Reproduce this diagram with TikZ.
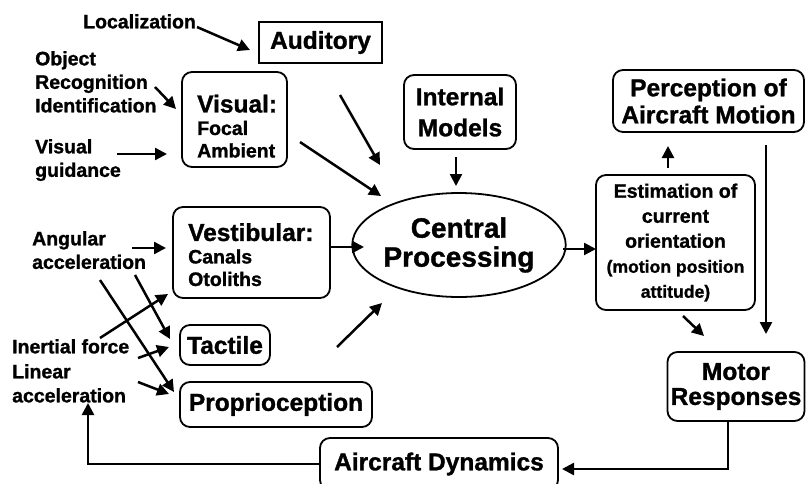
\documentclass[tikz,border=0pt]{standalone}
\usepackage{fontspec}
\setmainfont{Liberation Sans}[BoldFeatures={FakeBold=1.2}]
\usetikzlibrary{arrows.meta,shapes.geometric}
\begin{document}
\begin{tikzpicture}[x=1pt,y=-1pt,
  box/.style={draw,line width=1.8pt,rounded corners=10pt,inner sep=0pt,align=center},
  sqbox/.style={draw,line width=1.8pt,inner sep=0pt},
  arr/.style={line width=2.5pt,-{Triangle[length=12pt,width=12pt]}},
  lbl/.style={inner sep=0pt,align=left,anchor=north west,font=\bfseries\fontsize{19.5}{23.5}\selectfont},
  bigf/.style={font=\bfseries\fontsize{24.5}{27}\selectfont},
]
\useasboundingbox (0,0) rectangle (806,483);

% boxes
\node[sqbox,bigf,minimum width=123pt,minimum height=41pt] (aud) at (320.5,42.5) {Auditory};
\node[box,minimum width=105pt,minimum height=95pt] (vis) at (234.5,119.5) {};
\node[lbl,font=\bfseries\fontsize{19.5}{22.5}\selectfont] (vistxt) at (197,94.5) {{\fontsize{24.5}{23}\selectfont Visual:}\\Focal\\Ambient};
\node[box,font=\bfseries\fontsize{24.5}{31}\selectfont,minimum width=112pt,minimum height=74pt] (intm) at (460,112) {Internal\\Models};
\node[box,font=\bfseries\fontsize{24.5}{27}\selectfont,minimum width=191pt,minimum height=62pt] (perc) at (708.5,101) {Perception of\\Aircraft Motion};
\node[box,minimum width=157pt,minimum height=91pt] (vest) at (251.5,252.5) {};
\node[lbl,font=\bfseries\fontsize{19.5}{22.5}\selectfont] (vesttxt) at (188,223) {{\fontsize{24.5}{23}\selectfont Vestibular:}\\Canals\\Otoliths};
\node[ellipse,draw,line width=1.8pt,inner sep=0pt,minimum width=184pt,minimum height=104pt,align=center,font=\bfseries\fontsize{28}{29}\selectfont] (cp) at (459,245) {Central\\Processing};
\node[box,minimum width=159pt,minimum height=135pt,font=\bfseries\fontsize{19.5}{25}\selectfont] (est) at (675.5,242.5) {Estimation of\\current\\orientation\\{\fontsize{17.6}{21}\selectfont (motion position}\\{\fontsize{17.6}{21}\selectfont attitude)}};
\node[box,bigf,minimum width=90pt,minimum height=40pt] (tac) at (225,345) {Tactile};
\node[box,bigf,minimum width=192pt,minimum height=45pt] (prop) at (276,404.5) {Proprioception};
\node[box,font=\bfseries\fontsize{24.5}{25}\selectfont,minimum width=137pt,minimum height=69pt] (mot) at (736,386.5) {Motor\\Responses};
\node[box,bigf,minimum width=238pt,minimum height=52pt] (air) at (439,464) {Aircraft Dynamics};

% labels
\node[lbl] (loc) at (83,14) {Localization};
\node[lbl] (obj) at (35,51) {Object\\Recognition\\Identification};
\node[lbl] (vg) at (35,139) {Visual\\guidance};
\node[lbl] (ang) at (32,231) {Angular\\acceleration};
\node[lbl] (inf) at (12,339) {Inertial force};
\node[lbl,font=\bfseries\fontsize{19.5}{24}\selectfont] (lin) at (12,364) {Linear\\acceleration};

% arrow end points
\coordinate (a1) at (197,27); \coordinate (b1) at (250,50);
\coordinate (a2) at (155,87); \coordinate (b2) at (176,109);
\coordinate (a3) at (117,154); \coordinate (b3) at (167,154);
\coordinate (a4) at (340,95); \coordinate (b4) at (380,165);
\coordinate (a5) at (300,142); \coordinate (b5) at (381,196);
\coordinate (a6) at (456,157); \coordinate (b6) at (456,186);
\coordinate (a7) at (331,247); \coordinate (b7) at (364,247);
\coordinate (a8) at (337,347); \coordinate (b8) at (382,303);
\coordinate (a9) at (563,249); \coordinate (b9) at (596,249);
\coordinate (a10) at (668,168); \coordinate (b10) at (668,146);
\coordinate (a11) at (766,145); \coordinate (b11) at (766,334);
\coordinate (a12) at (683,316); \coordinate (b12) at (704,336);
\coordinate (a13) at (132,248); \coordinate (b13) at (166,248);
\coordinate (a14) at (135,275); \coordinate (b14) at (170,339);
\coordinate (a15) at (100,280); \coordinate (b15) at (174,392);
\coordinate (a16) at (100,338); \coordinate (b16) at (168,294);
\coordinate (a17) at (138,358); \coordinate (b17) at (169,347);
\coordinate (a18) at (138,382); \coordinate (b18) at (169,394);
\coordinate (m1) at (728,421); \coordinate (m2) at (562,469);
\coordinate (la) at (88,403);

\foreach \i in {1,...,18} {\draw[arr] (a\i) -- (b\i);}
\draw[arr] (m1) |- (m2);
\draw[arr] (air.west) -| (la);
\end{tikzpicture}
\end{document}
